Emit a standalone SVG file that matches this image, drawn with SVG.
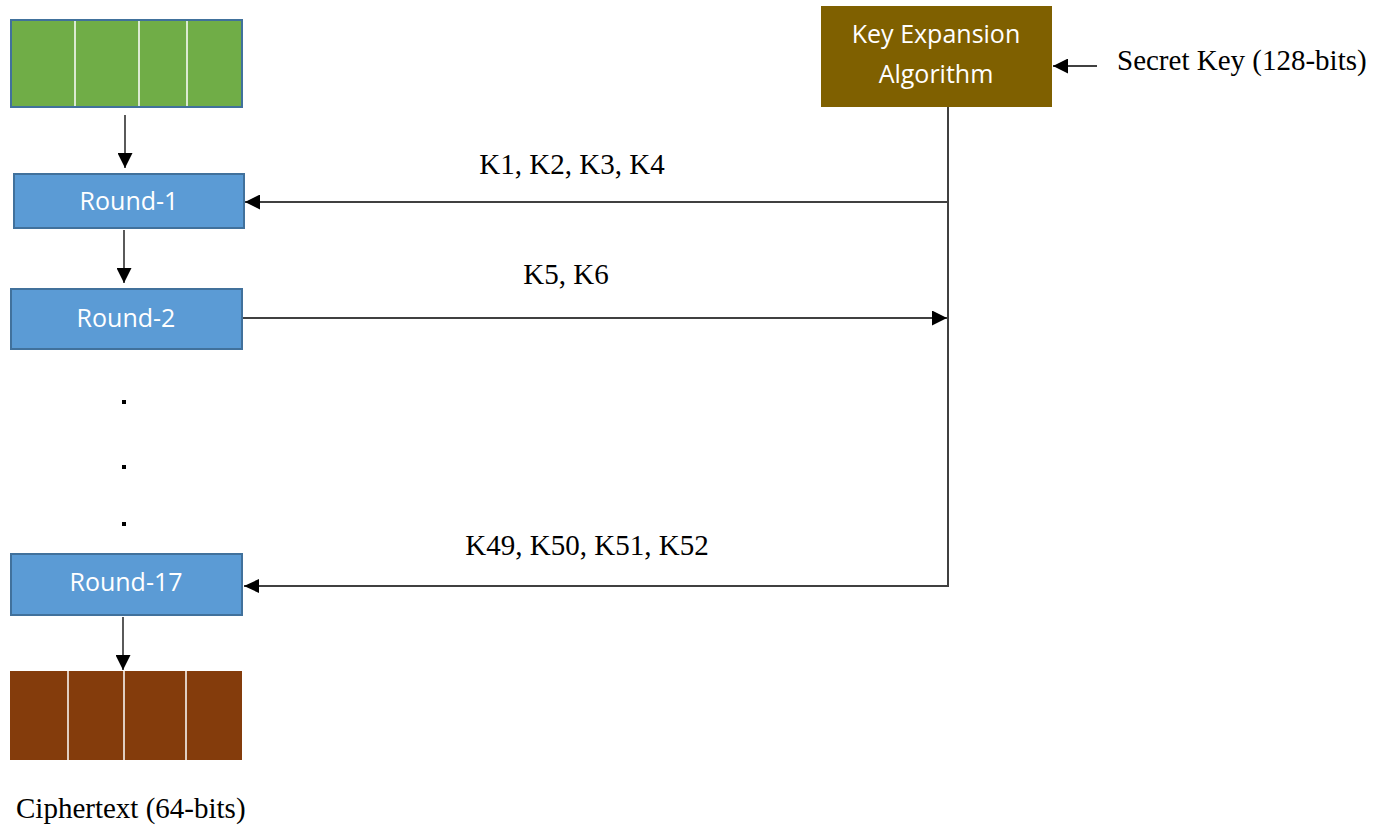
<svg xmlns="http://www.w3.org/2000/svg" width="1387" height="827" viewBox="0 0 1387 827">
<style>
.round{fill:#5B9BD5;stroke:#41719C;stroke-width:2}
.rt{font-family:"Open Sans","Liberation Sans",sans-serif;font-size:25px;fill:#fff;text-anchor:middle}
.lbl{font-family:"Liberation Serif",serif;font-size:29px;fill:#000}
.div{stroke:#fff;stroke-width:1.5}
.c{stroke:#000;stroke-width:1.3;fill:none}
.k{stroke:#404040;stroke-width:2;fill:none}
</style>
<defs>
<marker id="ah" viewBox="0 0 10 10" refX="10" refY="5" markerWidth="15" markerHeight="15" markerUnits="userSpaceOnUse" orient="auto">
<path d="M0,0 L10,5 L0,10 z" fill="#000"/>
</marker>
</defs>
<g id="plaintext">
<rect x="11" y="20" width="231" height="87" fill="#70AD47" stroke="#41719C" stroke-width="2"/>
<line class="div" x1="75" y1="21" x2="75" y2="106"/>
<line class="div" x1="139" y1="21" x2="139" y2="106"/>
<line class="div" x1="187" y1="21" x2="187" y2="106"/>
</g>
<g id="round1">
<rect class="round" x="14" y="174" width="230" height="54"/>
<text class="rt" x="129" y="210">Round-1</text>
</g>
<g id="round2">
<rect class="round" x="11" y="289" width="231" height="60"/>
<text class="rt" x="126" y="327">Round-2</text>
</g>
<g id="dots">
<rect x="122" y="400" width="4" height="4" fill="#000"/>
<rect x="122" y="465" width="4" height="4" fill="#000"/>
<rect x="122" y="522" width="4" height="4" fill="#000"/>
</g>
<g id="round17">
<rect class="round" x="11" y="554" width="231" height="61"/>
<text class="rt" x="126" y="591">Round-17</text>
</g>
<g id="ciphertext">
<rect x="10" y="671" width="232" height="89" fill="#843C0C"/>
<line class="div" x1="68" y1="671" x2="68" y2="760"/>
<line class="div" x1="124" y1="671" x2="124" y2="760"/>
<line class="div" x1="186" y1="671" x2="186" y2="760"/>
<text class="lbl" x="16" y="818">Ciphertext (64-bits)</text>
</g>
<g id="keyexp">
<rect x="821" y="6" width="231" height="101" fill="#7F6000"/>
<text class="rt" x="936" y="43" font-size="27">Key Expansion</text>
<text class="rt" x="936" y="83" font-size="27">Algorithm</text>
</g>
<g id="secretkey">
<text class="lbl" x="1117" y="70">Secret Key (128-bits)</text>
</g>
<g id="connectors">
<line class="c" x1="125" y1="115" x2="125" y2="168" marker-end="url(#ah)"/>
<line class="c" x1="124" y1="230" x2="124" y2="283" marker-end="url(#ah)"/>
<line class="c" x1="123" y1="617" x2="123" y2="670" marker-end="url(#ah)"/>
<line class="c" x1="1097" y1="66" x2="1053" y2="66" marker-end="url(#ah)"/>
<polyline class="k" points="948,107 948,586 244,586"/>
<line class="k" x1="948" y1="202" x2="245" y2="202" marker-end="url(#ah)"/>
<line class="c" x1="243" y1="318" x2="947" y2="318" marker-end="url(#ah)"/>
<path d="M244,586 l15,-7 v14 z" fill="#000"/>
<text class="lbl" x="572" y="174" text-anchor="middle">K1, K2, K3, K4</text>
<text class="lbl" x="566" y="284" text-anchor="middle">K5, K6</text>
<text class="lbl" x="587" y="555" text-anchor="middle">K49, K50, K51, K52</text>
</g>
</svg>
